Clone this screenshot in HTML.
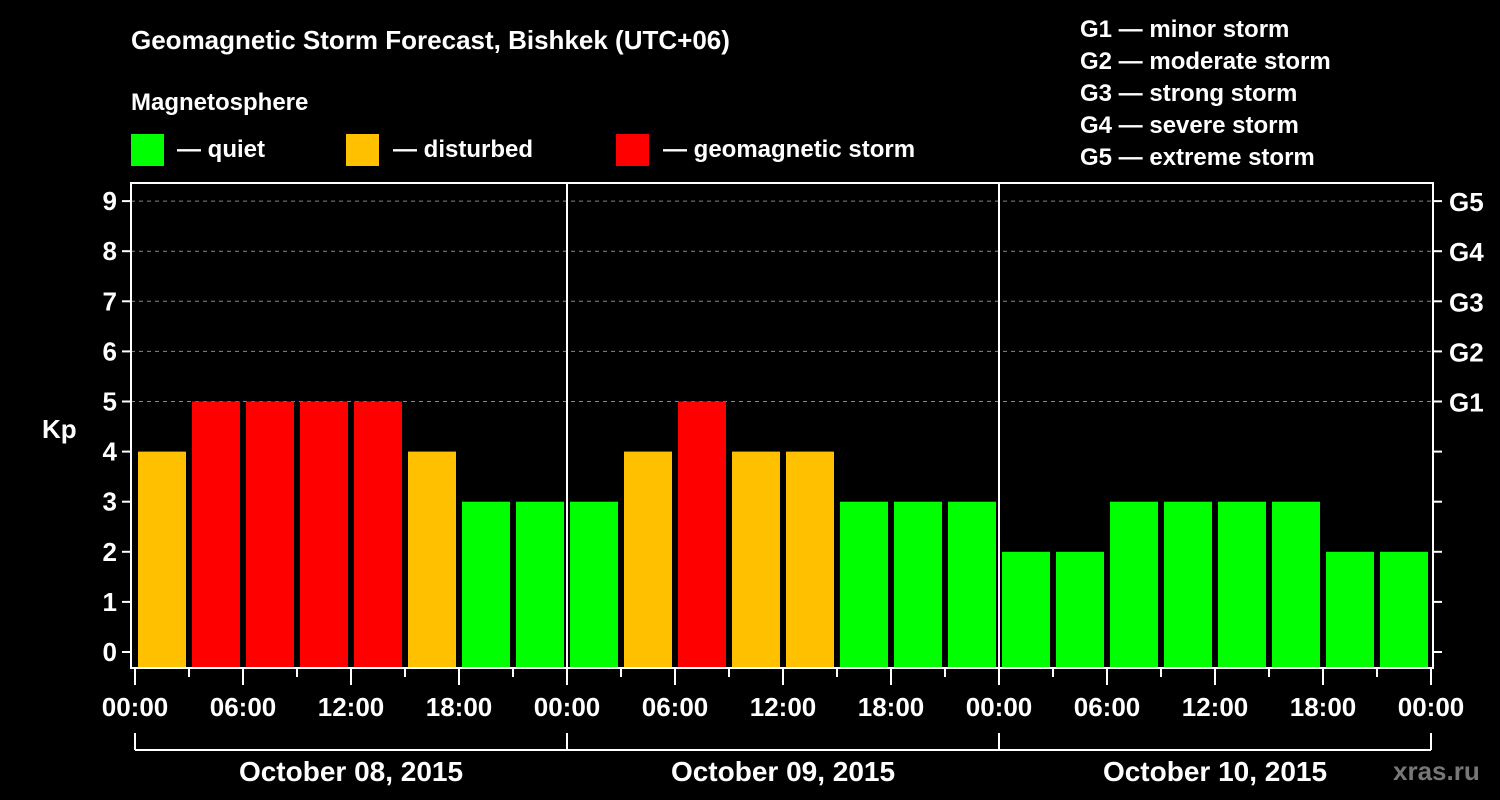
<!DOCTYPE html>
<html><head><meta charset="utf-8"><style>
html,body{margin:0;padding:0;background:#000;}
svg{display:block;font-family:"Liberation Sans",Arial,sans-serif;font-weight:bold;}
</style></head><body>
<svg id="chart" width="1500" height="800" viewBox="0 0 1500 800">
<rect x="0" y="0" width="1500" height="800" fill="#000"/>
<text x="131" y="49" fill="#fff" font-size="26">Geomagnetic Storm Forecast, Bishkek (UTC+06)</text>
<text x="131" y="110" fill="#fff" font-size="24">Magnetosphere</text>
<g><rect x="131" y="134" width="33" height="32" fill="#00ff00"/><text x="177" y="157" fill="#fff" font-size="24">— quiet</text></g>
<g><rect x="346" y="134" width="33" height="32" fill="#ffc000"/><text x="393" y="157" fill="#fff" font-size="24">— disturbed</text></g>
<g><rect x="616" y="134" width="33" height="32" fill="#ff0000"/><text x="663" y="157" fill="#fff" font-size="24">— geomagnetic storm</text></g>
<g fill="#fff" font-size="24">
<text x="1080" y="37">G1 — minor storm</text>
<text x="1080" y="69">G2 — moderate storm</text>
<text x="1080" y="101">G3 — strong storm</text>
<text x="1080" y="133">G4 — severe storm</text>
<text x="1080" y="165">G5 — extreme storm</text>
</g>
<g id="grid"></g>
<g id="bars"></g>
<g id="axes"></g>
<text x="42" y="438" fill="#fff" font-size="26">Kp</text>
<text x="1393" y="780" fill="#777" font-size="26">xras.ru</text>
</svg>
<script>
const kpValues=[4,5,5,5,5,4,3,3, 3,4,5,4,4,3,3,3, 2,2,3,3,3,3,2,2];
const yTicks=[0,1,2,3,4,5,6,7,8,9];
const gLabels=["G1","G2","G3","G4","G5"];
const gLevels=[5,6,7,8,9];
const timeLabels=["00:00","06:00","12:00","18:00"];
const dayLabels=["October 08, 2015","October 09, 2015","October 10, 2015"];
const NS="http://www.w3.org/2000/svg";
const X0=135, DAYW=432, L=131, R=1433, T=183, B=668;
const x=h=>X0+h/24*DAYW;
const y=v=>652-v*50.1;
const color=v=>v>=5?"#ff0000":(v>=4?"#ffc000":"#00ff00");
function mk(tag,at,parent){const e=document.createElementNS(NS,tag);for(const k in at)e.setAttribute(k,at[k]);parent.appendChild(e);return e;}
const grid=document.getElementById('grid'),bars=document.getElementById('bars'),axes=document.getElementById('axes');
yTicks.forEach(v=>{
  if(v>=5){const g=mk('line',{x1:L,x2:R,y1:y(v),y2:y(v),stroke:'#888','stroke-dasharray':'4,4','stroke-width':1},grid);
  
  }
  const t=mk('line',{x1:L-9,x2:L,y1:y(v),y2:y(v),stroke:'#fff','stroke-width':2},axes);
  
  
  const rt=mk('line',{x1:R,x2:R+9,y1:y(v),y2:y(v),stroke:'#fff','stroke-width':2},axes);
  
  
  const lb=mk('text',{x:L-14,y:y(v)+9,fill:'#fff','font-size':26,'text-anchor':'end'},axes);
  lb.textContent=v;
  
  
});
gLabels.forEach((g,i)=>{
  const lb=mk('text',{x:R+16,y:y(gLevels[i])+10,fill:'#fff','font-size':26},axes);
  lb.textContent=g;
  
  
});
kpValues.forEach((v,i)=>{
  const b=mk('rect',{x:x(i*3)+3,y:y(v),width:48,height:B-y(v),fill:color(v)},bars);
  
  
});
mk('rect',{x:L,y:T,width:R-L,height:B-T,fill:'none',stroke:'#fff','stroke-width':2},axes);
for(let d=1;d<dayLabels.length;d++){
  const l=mk('line',{x1:x(d*24),x2:x(d*24),y1:T,y2:B,stroke:'#fff','stroke-width':2},axes);
  
  
}
for(let h=0;h<=72;h+=3){
  const major=h%6===0;
  const t=mk('line',{x1:x(h),x2:x(h),y1:B,y2:major?685:677,stroke:'#fff','stroke-width':2},axes);
  
  
  if(major){
    const lb=mk('text',{x:x(h),y:716,fill:'#fff','font-size':26,'text-anchor':'middle'},axes);
    lb.textContent=timeLabels[(h/6)%4];
    
    
  }
}
mk('line',{x1:x(0),x2:x(72),y1:750,y2:750,stroke:'#fff','stroke-width':2},axes);
for(let d=0;d<=dayLabels.length;d++){
  const l=mk('line',{x1:x(d*24),x2:x(d*24),y1:733,y2:750,stroke:'#fff','stroke-width':2},axes);
  
  
}
dayLabels.forEach((s,d)=>{
  const lb=mk('text',{x:x(d*24+12),y:781,fill:'#fff','font-size':28,'text-anchor':'middle'},axes);
  lb.textContent=s;
  
  
});
</script>
</body></html>
